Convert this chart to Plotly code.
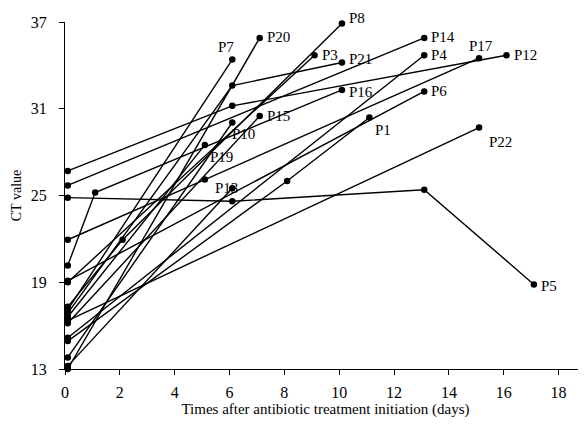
import plotly.graph_objects as go

# ---- data (days after treatment initiation, CT value) ----
patients = ["P1", "P3", "P4", "P5", "P6", "P7", "P8", "P10", "P12", "P13",
            "P14", "P15", "P16", "P17", "P19", "P20", "P21", "P22"]

days = {
    "P1": [0.1, 8.1, 11.1],
    "P3": [0.1, 9.1],
    "P4": [0.1, 13.1],
    "P5": [0.1, 6.1, 13.1, 17.1],
    "P6": [0.1, 13.1],
    "P7": [0.1, 6.1],
    "P8": [0.1, 2.1, 10.1],
    "P10": [0.1, 6.1],
    "P12": [0.1, 6.1, 16.1],
    "P13": [0.1, 6.1],
    "P14": [0.1, 13.1],
    "P15": [0.1, 7.1],
    "P16": [0.1, 1.1, 10.1],
    "P17": [0.1, 5.1, 15.1],
    "P19": [0.1, 5.1],
    "P20": [0.1, 7.1],
    "P21": [0.1, 6.1, 10.1],
    "P22": [0.1, 15.1],
}

ct = {
    "P1": [14.93, 26.0, 30.4],
    "P3": [19.0, 34.7],
    "P4": [15.16, 34.7],
    "P5": [24.85, 24.6, 25.4, 18.85],
    "P6": [19.1, 32.2],
    "P7": [17.1, 34.4],
    "P8": [17.3, 21.94, 36.9],
    "P10": [13.8, 30.05],
    "P12": [26.7, 31.2, 34.7],
    "P13": [13.2, 25.5],
    "P14": [25.7, 35.9],
    "P15": [16.17, 30.5],
    "P16": [20.16, 25.2, 32.3],
    "P17": [21.94, 26.1, 34.5],
    "P19": [16.6, 28.5],
    "P20": [13.0, 35.9],
    "P21": [16.86, 32.6, 34.2],
    "P22": [16.35, 29.7],
}

x_ticks = [0, 2, 4, 6, 8, 10, 12, 14, 16, 18]
y_ticks = [13, 19, 25, 31, 37]

# ---- label placement (style): xanchor, yanchor, xshift, yshift ----
label_style = {
    "P1": ("left", "top", 4, -3),
    "P3": ("left", "middle", 5, 0),
    "P4": ("left", "middle", 5, 0),
    "P5": ("left", "middle", 5, -2),
    "P6": ("left", "middle", 5, 0),
    "P7": ("center", "bottom", -6, 3),
    "P8": ("left", "middle", 5, 5),
    "P10": ("left", "top", -2, -2),
    "P12": ("left", "middle", 6, 0),
    "P13": ("right", "middle", 8, 0),
    "P14": ("left", "middle", 5, 1),
    "P15": ("left", "middle", 5, 0),
    "P16": ("left", "middle", 5, -2),
    "P17": ("center", "bottom", 2, 2),
    "P19": ("left", "top", 3, -2),
    "P20": ("left", "middle", 5, 1),
    "P21": ("left", "middle", 5, 3),
    "P22": ("left", "top", 8, -4),
}

FONT = "Liberation Serif, Times New Roman, serif"

fig = go.Figure()
annotations = []
for p in patients:
    fig.add_trace(go.Scatter(
        x=days[p], y=ct[p], mode="lines+markers",
        line=dict(color="black", width=1.4),
        marker=dict(color="black", size=6.5),
        showlegend=False, cliponaxis=False, hoverinfo="skip",
    ))
    xa, ya, dx, dy = label_style[p]
    annotations.append(dict(
        x=days[p][-1], y=ct[p][-1], text=p, showarrow=False,
        xanchor=xa, yanchor=ya, xshift=dx, yshift=dy,
        font=dict(family=FONT, size=15, color="black"),
    ))

# the page adds an 8px body margin, so the figure is sized to fit inside
fig.update_layout(
    width=578, height=417,
    margin=dict(l=57, r=0, t=14, b=56),
    paper_bgcolor="white", plot_bgcolor="white",
    font=dict(family=FONT, size=16, color="black"),
    annotations=annotations,
    xaxis=dict(
        range=[0, 19], tickvals=x_ticks, ticktext=[str(v) for v in x_ticks],
        showgrid=False, zeroline=False, showline=True, linecolor="black",
        linewidth=1.3, ticks="outside", ticklen=5, tickwidth=1.2, tickcolor="black",
        ticklabelstandoff=4, automargin=False,
        title=dict(text="Times after antibiotic treatment initiation (days)",
                   font=dict(family=FONT, size=15), standoff=3),
    ),
    yaxis=dict(
        range=[13, 37], tickvals=y_ticks, ticktext=[str(v) for v in y_ticks],
        showgrid=False, zeroline=False, showline=True, linecolor="black",
        linewidth=1.3, ticks="outside", ticklen=5, tickwidth=1.2, tickcolor="black",
        ticklabelstandoff=9, automargin=False,
        title=dict(text="CT value", font=dict(family=FONT, size=14), standoff=5),
    ),
)

fig.write_html("out.html")
